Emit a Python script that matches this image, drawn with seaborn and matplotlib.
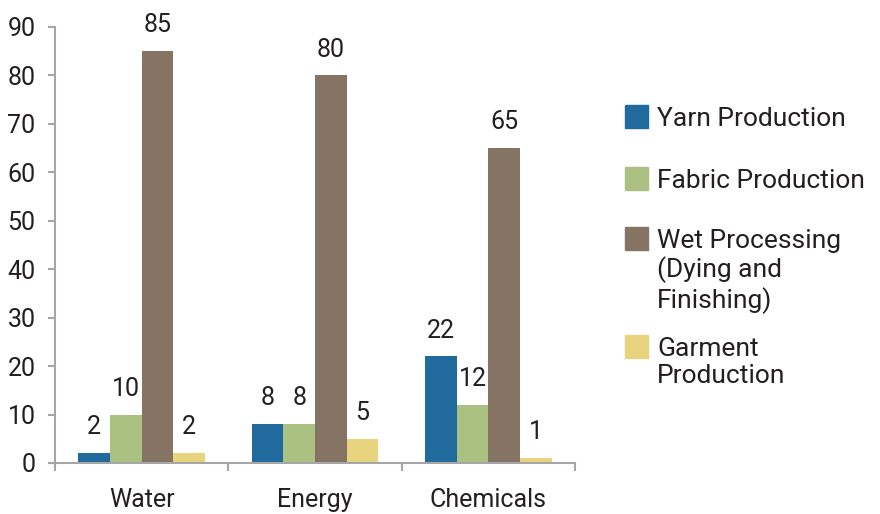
import numpy as np
import pandas as pd
import matplotlib
matplotlib.use('Agg')
import matplotlib.pyplot as plt
import seaborn as sns

# Daten
categories = ['Water', 'Energy', 'Chemicals']
stages = ['Yarn Production', 'Fabric Production',
          'Wet Processing\n(Dying and\nFinishing)', 'Garment\nProduction']
yarn = [2, 8, 22]
fabric = [10, 8, 12]
wet = [85, 80, 65]
garment = [2, 5, 1]
colors = ['#216a9e', '#abc182', '#857363', '#e8d47e']

rows = []
for stage, vals in zip(stages, [yarn, fabric, wet, garment]):
    for cat, v in zip(categories, vals):
        rows.append({'Kategorie': cat, 'Stufe': stage, 'Wert': v})
df = pd.DataFrame(rows)

sns.set_style('white')
plt.rcParams['font.family'] = ['Roboto', 'DejaVu Sans']
text_col = '#231f20'
axis_col = '#a6a6a6'
fs = 18

W, H = 880, 514
fig = plt.figure(figsize=(W / 100, H / 100), dpi=100)
ax = fig.add_axes([55 / W, 51 / H, 520 / W, 436 / H])

sns.barplot(data=df, x='Kategorie', y='Wert', hue='Stufe', order=categories,
            hue_order=stages, palette=colors, width=0.73, gap=0,
            edgecolor='none', linewidth=0, saturation=1, ax=ax, legend=False)

for cont in ax.containers:
    ax.bar_label(cont, fmt='%g', padding=10, fontsize=fs, color=text_col)

ax.set_xlim(-0.5, 2.5)
ax.set_ylim(0, 90)
ax.set_yticks(np.arange(0, 91, 10))
ax.set_xlabel('')
ax.set_ylabel('')

for s in ['top', 'right']:
    ax.spines[s].set_visible(False)
for s in ['left', 'bottom']:
    ax.spines[s].set_color(axis_col)
    ax.spines[s].set_linewidth(1.5)

ax.tick_params(axis='y', which='major', direction='out', length=5, width=1.5,
               color=axis_col, labelsize=fs, labelcolor=text_col, pad=9, left=True)
ax.tick_params(axis='x', which='major', length=0, labelsize=fs,
               labelcolor=text_col, pad=18)
ax.set_xticks([-0.5, 0.5, 1.5, 2.5], minor=True)
ax.tick_params(axis='x', which='minor', direction='out', length=6, width=1.5,
               color=axis_col, bottom=True)

# Legende von Hand (Quadrat oben, Text daneben)
sq_top = [105, 167, 227, 335]
sq = 23
for c, lab, top in zip(colors, stages, sq_top):
    fig.patches.append(plt.Rectangle((625 / W, 1 - (top + sq) / H), sq / W, sq / H,
                                     color=c, transform=fig.transFigure, figure=fig))
    fig.text(657 / W, 1 - (top + 2) / H, lab, fontsize=19, color=text_col,
             ha='left', va='top', linespacing=1.17)

fig.savefig('out.png', dpi=100)
